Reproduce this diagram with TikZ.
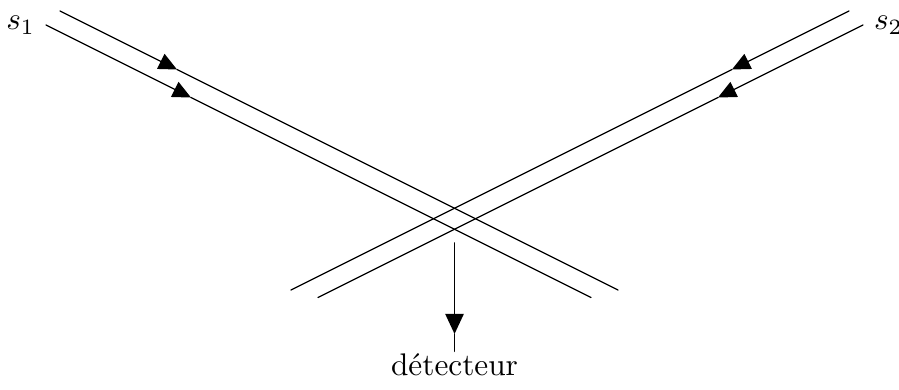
\documentclass[tikz,border=0pt]{standalone}
\usetikzlibrary{arrows.meta}
\tikzset{raytip/.style={-{Triangle[length=5.8pt,width=5.3pt]}}}

\begin{document}
\begin{tikzpicture}[line cap=round]
  \useasboundingbox (0,0) rectangle (10.101,4.371);
  \coordinate (S1a) at (0.674,4.247); \coordinate (T1a) at (1.989,3.590); \coordinate (E1a) at (6.944,1.112);
  \coordinate (S1b) at (0.517,4.090); \coordinate (T1b) at (2.146,3.275); \coordinate (E1b) at (6.640,1.028);
  \coordinate (S2a) at (9.539,4.247); \coordinate (T2a) at (8.224,3.590); \coordinate (E2a) at (3.269,1.112);
  \coordinate (S2b) at (9.696,4.090); \coordinate (T2b) at (8.067,3.275); \coordinate (E2b) at (3.573,1.028);
  \draw[raytip] (S1a)--(T1a); \draw (T1a)--(E1a); \draw[raytip] (S1b)--(T1b); \draw (T1b)--(E1b);
  \draw[raytip] (S2a)--(T2a); \draw (T2a)--(E2a); \draw[raytip] (S2b)--(T2b); \draw (T2b)--(E2b);
  \node[left] (s1) at (S1b) {$s_1$}; \node[right] (s2) at (S2b) {$s_2$};
  \coordinate (D) at (5.107,1.640); \coordinate (TD) at (5.107,0.618);
  \node[anchor=base,inner sep=0.6pt] (det) at (5.107,0.149) {détecteur};
  \draw[semithick,-{Triangle[length=6.4pt,width=5.8pt]}] (D)--(TD); \draw (TD)--(det.north);
\end{tikzpicture}
\end{document}
